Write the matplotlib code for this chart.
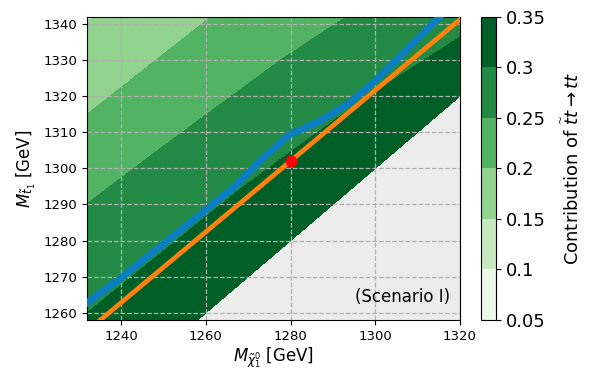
import numpy as np
import matplotlib
matplotlib.use("Agg")
import matplotlib.pyplot as plt

# contour boundaries, as dM = M_stop - M_chi at a few M_chi values
b30_x = [1232, 1267, 1280, 1290, 1300, 1310, 1320]
b30_d = [28.0, 26.2, 24.5, 23.0, 21.1, 18.8, 16.3]
b25_x = [1232, 1248.7, 1277.7, 1293.5, 1320]
b25_d = [58.2, 56.3, 52.3, 48.7, 45.0]
b20_x = [1232, 1261.5, 1320]
b20_d = [83.0, 80.7, 76.0]
b15_x = [1232, 1320]
b15_d = [108.5, 104.0]
levels = [0.05, 0.1, 0.15, 0.2, 0.25, 0.3, 0.35]

# blue curve
blue_x = [1232, 1239.3, 1250, 1266.8, 1273, 1279.7, 1286.6, 1293.8, 1299.8, 1307, 1315.2]
blue_y = [1262.8, 1269.1, 1279.1, 1294.9, 1302.3, 1309.3, 1312.9, 1318.0, 1324.0, 1332.4, 1342.0]
# orange line
orange_x = [1232, 1320]
orange_y = [1255.0, 1341.2]
# benchmark point
pt_x, pt_y = 1280, 1302

xg = np.linspace(1232, 1320, 353)
yg = np.linspace(1258, 1342, 337)
X, Y = np.meshgrid(xg, yg)
Z = np.full(X.shape, np.nan)
for j, x in enumerate(xg):
    d = [0, np.interp(x, b30_x, b30_d), np.interp(x, b25_x, b25_d),
         np.interp(x, b20_x, b20_d), np.interp(x, b15_x, b15_d), 140]
    v = [0.34, 0.30, 0.25, 0.20, 0.15, 0.12]
    Z[:, j] = np.interp(yg - x, d, v)
Z = np.ma.masked_where(Y < X, Z)

fig = plt.figure(figsize=(6, 3.87), dpi=100)
ax = fig.add_axes([0.1455, 0.173, 0.621, 0.784])
cax = fig.add_axes([0.8017, 0.173, 0.025, 0.784])
ax.set_facecolor("#ececec")

cs = ax.contourf(X, Y, Z, levels=levels, cmap="Greens")
ax.plot(blue_x, blue_y, color="#0b7dc1", lw=5.0, zorder=3)
ax.plot(orange_x, orange_y, color="#ff800e", lw=3.4, zorder=4)
ax.plot(pt_x, pt_y, "o", color="red", ms=7.5, zorder=5)

ax.grid(True, ls="--", color="#b0b0b0", lw=0.9)
ax.set_xlim(1232, 1320)
ax.set_ylim(1258, 1342)
ax.set_xticks([1240, 1260, 1280, 1300, 1320])
ax.set_yticks(range(1260, 1341, 10))
ax.tick_params(labelsize=9.5)
ax.set_xlabel(r"$M_{\tilde{\chi}^0_1}$ [GeV]", fontsize=12, labelpad=2)
ax.set_ylabel(r"$M_{\tilde{t}_1}$ [GeV]", fontsize=12, labelpad=4)
ax.text(0.975, 0.045, "(Scenario I)", transform=ax.transAxes, ha="right",
        va="bottom", fontsize=12)

cb = fig.colorbar(cs, cax=cax)
cb.set_ticks(levels)
cb.set_ticklabels(["0.05", "0.1", "0.15", "0.2", "0.25", "0.3", "0.35"])
cb.ax.tick_params(labelsize=13)
cb.set_label(r"Contribution of $\widetilde{t}t\rightarrow tt$", fontsize=13, labelpad=12)

fig.savefig("out.png", dpi=100)
